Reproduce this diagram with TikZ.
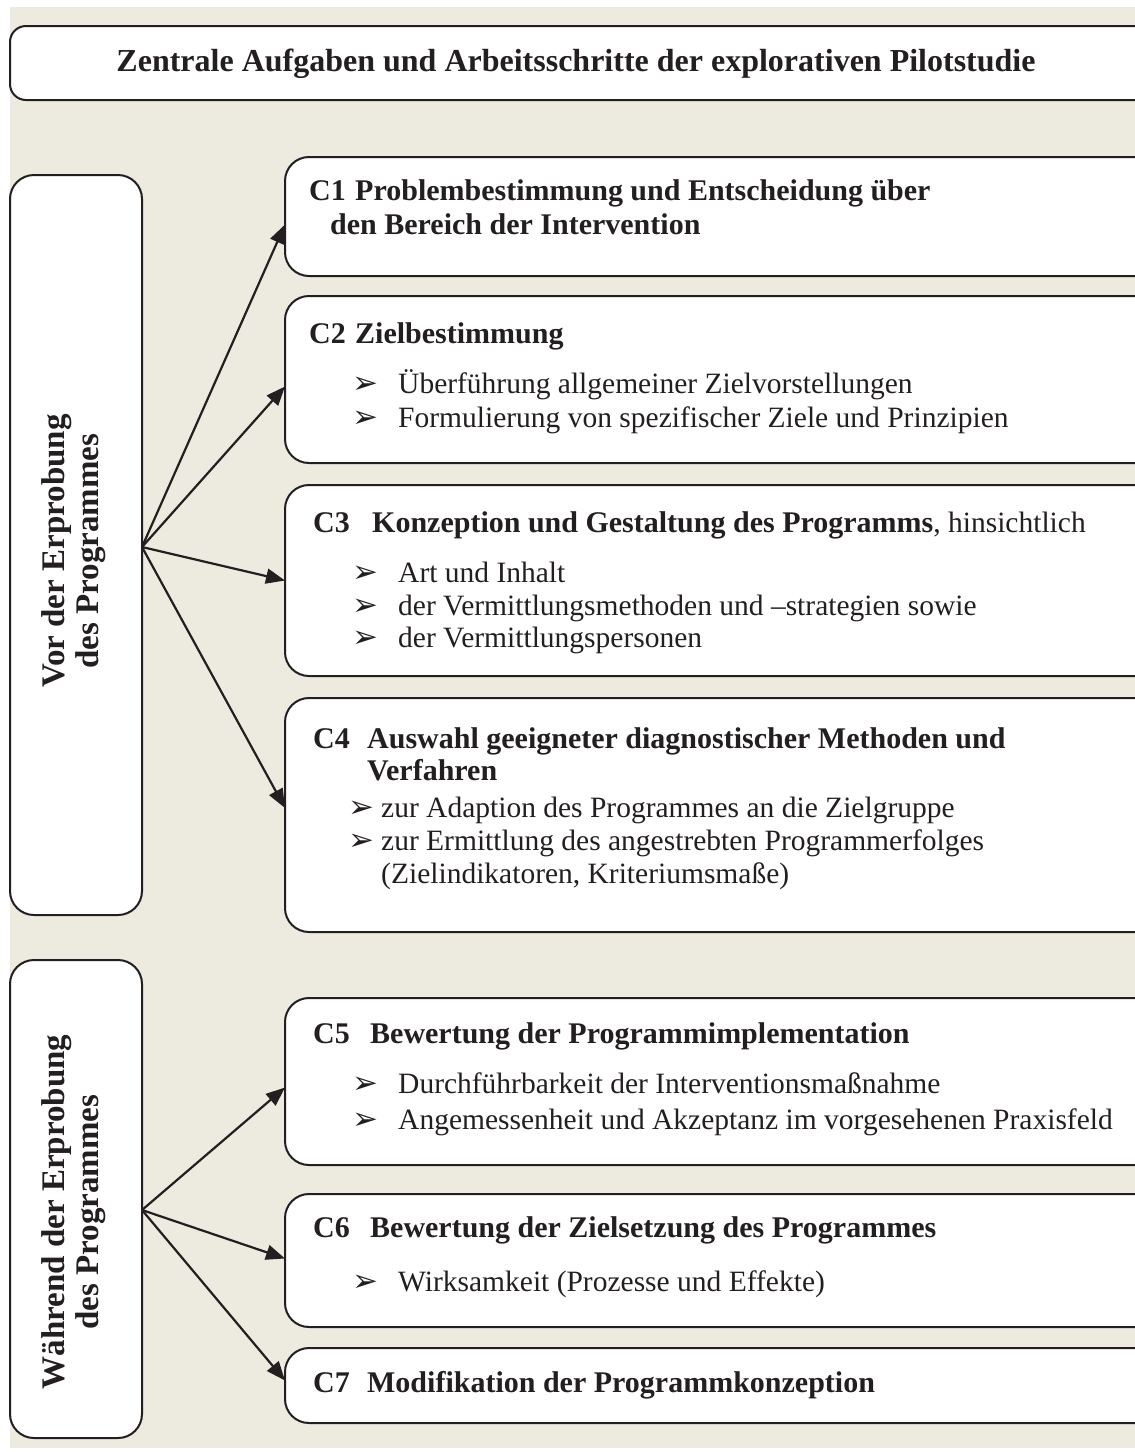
\documentclass[tikz,border=0pt]{standalone}
\usepackage{fontspec}
\setmainfont{Liberation Serif}
\newfontfamily\dingfont{DejaVu Sans}
\usetikzlibrary{arrows.meta,calc}
\definecolor{bgbeige}{RGB}{237,234,224}
\definecolor{ink}{RGB}{35,31,32}
\newcommand\headfont{\bfseries\fontsize{30}{34}\selectfont}
\newcommand\bodyfont{\fontsize{29.5}{33}\selectfont}
\newcommand\itm[2][46pt]{\makebox[#1][l]{\dingfont\fontsize{31}{31}\selectfont ➢}#2}
\begin{document}
\begin{tikzpicture}[x=1pt,y=-1pt,
  panel/.style={draw=ink, line width=2pt, fill=white, rounded corners=24pt,
    anchor=north west, inner sep=0pt, outer sep=0pt},
  hd/.style={anchor=base west, inner sep=0pt, font=\headfont, text=ink},
  bt/.style={anchor=base west, inner sep=0pt, font=\bodyfont, text=ink},
  rot/.style={rotate=90, align=center, inner sep=0pt, text=ink,
    font=\bfseries\fontsize{33}{34}\selectfont},
  conn/.style={draw=ink, line width=2.2pt, -{Triangle[length=19pt,width=15pt]}}]
\useasboundingbox (0,0) rectangle (1135,1452);
\clip (0,0) rectangle (1135,1452);
\fill[bgbeige] (10,7) rectangle (1135,1448);

% title bar
\node[panel, rounded corners=16pt, minimum width=1160pt, minimum height=74pt] (titlebox) at (10,26) {};
\node[anchor=base, inner sep=0pt, text=ink, font=\bfseries\fontsize{32}{36}\selectfont] (titletext) at (576,71)
  {Zentrale Aufgaben und Arbeitsschritte der explorativen Pilotstudie};

% phase boxes
\node[panel, minimum width=132pt, minimum height=740pt] (vor) at (10,175) {};
\node[panel, minimum width=132pt, minimum height=478pt] (waehrend) at (10,960) {};
\node[rot] (vortext) at (74,551) {Vor der Erprobung\\des Programmes};
\node[rot] (waehrendtext) at (74,1212) {Während der Erprobung\\des Programmes};

% task boxes
\node[panel, minimum width=875pt, minimum height=119pt] (c1) at (285,157) {};
\node[panel, minimum width=875pt, minimum height=167pt] (c2) at (285,296) {};
\node[panel, minimum width=875pt, minimum height=191pt] (c3) at (285,485) {};
\node[panel, minimum width=875pt, minimum height=234pt] (c4) at (285,698) {};
\node[panel, minimum width=875pt, minimum height=167pt] (c5) at (285,998) {};
\node[panel, minimum width=875pt, minimum height=133pt] (c6) at (285,1194) {};
\node[panel, minimum width=875pt, minimum height=75pt] (c7) at (285,1348) {};

% C1
\node[hd] (c1a) at (309,200) {\makebox[46pt][l]{C1}Problembestimmung und Entscheidung über};
\node[hd] (c1b) at (330,234) {den Bereich der Intervention};
% C2
\node[hd] (c2a) at (309,343) {\makebox[46pt][l]{C2}Zielbestimmung};
\node[bt] (c2b) at (352,393) {\itm{Überführung allgemeiner Zielvorstellungen}};
\node[bt] (c2c) at (352,427) {\itm{Formulierung von spezifischer Ziele und Prinzipien}};
% C3
\node[hd] (c3a) at (313,532) {\makebox[59pt][l]{C3}Konzeption und Gestaltung des Programms\mdseries\bodyfont, hinsichtlich};
\node[bt] (c3b) at (352,582) {\itm{Art und Inhalt}};
\node[bt] (c3c) at (352,615) {\itm{der Vermittlungsmethoden und –strategien sowie}};
\node[bt] (c3d) at (352,647) {\itm{der Vermittlungspersonen}};
% C4
\node[hd] (c4a) at (313,748) {\makebox[54pt][l]{C4}Auswahl geeigneter diagnostischer Methoden und};
\node[hd] (c4b) at (367,780) {Verfahren};
\node[bt] (c4c) at (348,817) {\itm[33pt]{zur Adaption des Programmes an die Zielgruppe}};
\node[bt] (c4d) at (348,850) {\itm[33pt]{zur Ermittlung des angestrebten Programmerfolges}};
\node[bt] (c4e) at (381,883) {(Zielindikatoren, Kriteriumsmaße)};
% C5
\node[hd] (c5a) at (313,1043) {\makebox[57pt][l]{C5}Bewertung der Programmimplementation};
\node[bt] (c5b) at (352,1093) {\itm{Durchführbarkeit der Interventionsmaßnahme}};
\node[bt] (c5c) at (352,1129) {\itm{Angemessenheit und Akzeptanz im vorgesehenen Praxisfeld}};
% C6
\node[hd] (c6a) at (313,1237) {\makebox[57pt][l]{C6}Bewertung der Zielsetzung des Programmes};
\node[bt] (c6b) at (352,1291) {\itm{Wirksamkeit (Prozesse und Effekte)}};
% C7
\node[hd] (c7a) at (313,1392) {\makebox[54pt][l]{C7}Modifikation der Programmkonzeption};

% fan-out connectors
\coordinate (f1) at ($(vor.east)+(0,2)$);
\coordinate (f2) at ($(waehrend.east)+(0,11)$);
\draw[conn] (f1) -- ($(c1.west)+(0,8)$);
\draw[conn] (f1) -- ($(c2.west)+(0,7)$);
\draw[conn] (f1) -- (c3.west);
\draw[conn] (f1) -- ($(c4.west)+(0,-7)$);
\draw[conn] (f2) -- ($(c5.west)+(0,6)$);
\draw[conn] (f2) -- ($(c6.west)+(0,-2)$);
\draw[conn] (f2) -- ($(c7.west)+(0,-5)$);
\end{tikzpicture}
\end{document}
